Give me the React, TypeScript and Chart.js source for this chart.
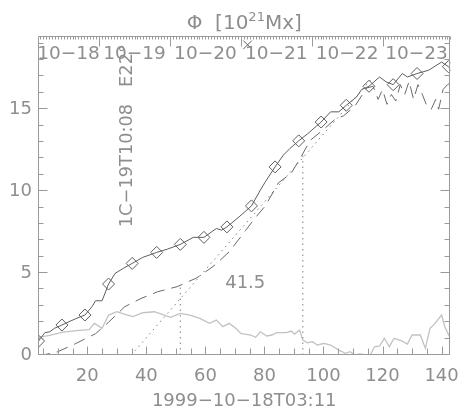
import React, { useEffect, useRef } from 'react';
import { Chart, registerables } from 'chart.js';
Chart.register(...registerables);

// ---- data ----
const X_MIN = 3.3;
const X_MAX = 143;
const Y_MIN = 0;
const Y_MAX = 19.47;
const xTickValues = [20, 40, 60, 80, 100, 120, 140];
const yTickValues = [0, 5, 10, 15];
const dayBoundaries = [0, 24, 48, 72, 96, 120, 144];
const dayLabels = ['10−18', '10−19', '10−20', '10−21', '10−22', '10−23'];
const xTitle = '1999−10−18T03:11';
const noteText = '1C−19T10:08   E22°';
const diffText = '41.5';

const solidX = [3.5, 5.6, 7.3, 8.9, 11.4, 14.5, 17.2, 19.2, 21.6, 22.8, 25.0, 27.2, 29.4, 32.2, 35.2, 38.8, 43.5, 47.1, 51.5, 55.9, 59.5, 63.7, 65.5, 67.3, 71.4, 75.6, 78.6, 80.3, 83.6, 86.4, 88.6, 91.6, 94.6, 99.2, 102.4, 105.2, 107.7, 111.2, 112.9, 115.4, 119.0, 121.2, 123.6, 126.7, 128.4, 130.0, 131.7, 135.6, 140.0, 142.3, 143.0];
const solidY = [0.85, 1.36, 1.42, 1.63, 1.83, 2.09, 2.30, 2.44, 2.95, 3.31, 3.31, 4.33, 4.98, 5.29, 5.59, 5.96, 6.26, 6.46, 6.75, 7.18, 7.18, 7.72, 7.62, 7.82, 8.43, 9.10, 10.06, 10.57, 11.48, 12.2, 12.6, 13.07, 13.5, 14.22, 14.84, 14.84, 15.24, 15.75, 16.2, 16.4, 16.97, 16.67, 16.5, 17.18, 16.97, 17.07, 17.18, 17.38, 17.88, 17.6, 17.45];
const diamondIdx = [0, 4, 7, 11, 14, 16, 18, 20, 23, 25, 28, 31, 33, 36, 39, 42, 46, 49];

const dashX = [3.3, 5.0, 10.0, 16.1, 22.8, 27.2, 32.7, 38.2, 43.8, 50.4, 57.0, 62.6, 68.1, 73.6, 77.0, 80.3, 84.7, 89.1, 92.4, 95.5, 99.6, 104.0, 106.8, 110.7, 114.6, 116.8, 118.5, 120.0, 121.5, 123.0, 124.5, 126.0, 127.5, 129.0, 130.5, 132.0, 133.5, 135.0, 136.5, 138.0, 139.0, 140.5, 142.0, 143.0];
const dashY = [0.0, 0.0, 0.2, 0.7, 1.3, 2.0, 2.95, 3.45, 3.86, 4.17, 4.7, 5.4, 6.3, 7.6, 8.4, 9.1, 10.5, 11.1, 12.1, 13.1, 13.7, 14.4, 14.6, 15.2, 16.3, 16.4, 15.6, 16.2, 15.3, 15.9, 15.5, 16.5, 15.9, 16.7, 15.6, 16.5, 15.9, 15.2, 15.0, 15.6, 15.0, 16.2, 16.5, 16.6];

const grayX = [3.3, 4.0, 7.3, 11.7, 17.2, 20.6, 22.4, 25.0, 27.2, 30.0, 32.7, 35.5, 38.8, 42.7, 48.2, 51.5, 54.8, 58.1, 61.4, 63.7, 65.9, 68.1, 70.3, 72.0, 75.3, 77.0, 78.6, 80.8, 82.5, 84.2, 87.5, 89.1, 90.2, 91.9, 93.0, 94.6, 96.3, 97.9, 100.2, 102.4, 105.2, 107.4, 109.0, 110.7, 112.4, 115.7, 117.3, 119.0, 120.6, 122.3, 123.9, 126.7, 128.4, 130.0, 132.8, 134.5, 136.1, 137.8, 140.0, 141.1, 143.0];
const grayY = [0.9, 1.1, 1.2, 1.4, 1.5, 1.55, 1.93, 1.63, 2.44, 2.64, 2.48, 2.34, 2.58, 2.64, 2.3, 2.54, 2.44, 2.24, 1.93, 2.13, 1.73, 1.93, 1.63, 1.32, 1.22, 1.08, 1.42, 1.16, 1.22, 1.36, 1.36, 1.46, 1.28, 1.52, 0.91, 0.75, 0.81, 0.61, 0.71, 0.61, 0.3, 0.1, 0.2, 0.0, 0.06, -0.05, 0.5, 0.55, 1.02, 0.5, 1.02, 0.85, 0.67, 1.22, 1.22, 0.41, 1.63, 1.93, 2.44, 1.73, 1.0];

const fitX = [34.9, 116.0];
const fitY = [0, 16.8];
const vline1X = [51.5, 51.5];
const vline1Y = [0, 4.17];
const vline2X = [93.0, 93.0];
const vline2Y = [0, 12.3];
const crossX = [74.3];
const crossY = [18.93];
const diffPos = [73.5, 4.4];
const notePos = [33.6, 7.8];

// ---- style ----
const FONT = '"DejaVu Sans", sans-serif';
const TEXT = '#8e8e8e';
const FRAME = '#9a9a9a';
const DARK = '#5e5e5e';

const pts = (xs: number[], ys: number[]) => xs.map((x, i) => ({ x, y: ys[i] }));

const idlPlugin = {
  id: 'idlDecor',
  afterDatasetsDraw(chart: any) {
    const { ctx, chartArea, scales } = chart;
    const { left, right, top, bottom } = chartArea;
    const xs = scales.x;
    const ys = scales.y;
    ctx.save();
    ctx.strokeStyle = FRAME;
    ctx.lineWidth = 1;
    const L = Math.round(left) + 0.5;
    const R = Math.round(right) - 0.5;
    const T = Math.round(top) + 0.5;
    const B = Math.round(bottom) - 0.5;
    ctx.beginPath();
    ctx.rect(L, T, R - L, B - T);
    for (let v = 0; v <= Math.floor(Y_MAX); v++) {
      const py = Math.round(ys.getPixelForValue(v)) - 0.5;
      const len = v % 5 === 0 ? 9 : 5;
      ctx.moveTo(L, py); ctx.lineTo(L + len, py);
      ctx.moveTo(R, py); ctx.lineTo(R - len, py);
    }
    for (let v = 5; v <= X_MAX; v += 5) {
      const px = Math.round(xs.getPixelForValue(v)) + 0.5;
      const len = v % 20 === 0 ? 8 : 6;
      ctx.moveTo(px, B); ctx.lineTo(px, B - len);
    }
    for (let h = Math.ceil(X_MIN); h <= X_MAX; h++) {
      const px = Math.round(xs.getPixelForValue(h)) + 0.5;
      const len = h % 24 === 0 ? 10 : 3;
      ctx.moveTo(px, T); ctx.lineTo(px, T + len);
    }
    ctx.stroke();

    ctx.fillStyle = TEXT;
    ctx.font = '18.5px ' + FONT;
    ctx.textAlign = 'center';
    ctx.textBaseline = 'middle';
    dayLabels.forEach((lab, i) => {
      const a = Math.max(X_MIN, dayBoundaries[i]);
      const b = Math.min(X_MAX, dayBoundaries[i + 1]);
      ctx.fillText(lab, xs.getPixelForValue((a + b) / 2), top + 18);
    });
    ctx.font = '18px ' + FONT;
    ctx.fillText(diffText, xs.getPixelForValue(diffPos[0]), ys.getPixelForValue(diffPos[1]));
    ctx.save();
    ctx.font = '17.8px ' + FONT;
    ctx.translate(xs.getPixelForValue(notePos[0]), ys.getPixelForValue(notePos[1]));
    ctx.rotate(-Math.PI / 2);
    ctx.textAlign = 'left';
    ctx.fillText(noteText, 0, 0);
    ctx.restore();
    const cx = (left + right) / 2;
    const parts = [
      { t: 'Φ  [10', f: '20px ' + FONT, dy: 0 },
      { t: '21', f: '13px ' + FONT, dy: -8 },
      { t: 'Mx]', f: '20px ' + FONT, dy: 0 },
    ];
    let w = 0;
    parts.forEach((p) => { ctx.font = p.f; w += ctx.measureText(p.t).width; });
    let xx = cx - w / 2;
    ctx.textAlign = 'left';
    ctx.textBaseline = 'alphabetic';
    parts.forEach((p) => {
      ctx.font = p.f;
      ctx.fillText(p.t, xx, 29 + p.dy);
      xx += ctx.measureText(p.t).width;
    });
    ctx.restore();
  },
};

export default function App() {
  const ref = useRef<HTMLCanvasElement | null>(null);
  useEffect(() => {
    if (!ref.current) return;
    const chart = new Chart(ref.current, {
      type: 'line',
      data: {
        datasets: [
          {
            label: 'flux',
            data: pts(solidX, solidY),
            borderColor: DARK,
            borderWidth: 1,
            pointStyle: 'rectRot',
            pointRadius: (c: any) => (diamondIdx.includes(c.dataIndex) ? 6 : 0),
            pointBorderColor: DARK,
            pointBackgroundColor: 'rgba(0,0,0,0)',
            pointBorderWidth: 1,
            tension: 0,
          },
          {
            label: 'dashed',
            data: pts(dashX, dashY),
            borderColor: '#6a6a6a',
            borderWidth: 1,
            borderDash: [12, 7],
            pointRadius: 0,
          },
          {
            label: 'fit',
            data: pts(fitX, fitY),
            borderColor: '#808080',
            borderWidth: 1,
            borderDash: [1.5, 4],
            pointRadius: 0,
          },
          {
            label: 'v1',
            data: pts(vline1X, vline1Y),
            borderColor: '#808080',
            borderWidth: 1,
            borderDash: [1.5, 4],
            pointRadius: 0,
          },
          {
            label: 'v2',
            data: pts(vline2X, vline2Y),
            borderColor: '#808080',
            borderWidth: 1,
            borderDash: [1.5, 4],
            pointRadius: 0,
          },
          {
            label: 'rate',
            data: pts(grayX, grayY),
            borderColor: '#c2c2c2',
            borderWidth: 1.3,
            pointRadius: 0,
          },
          {
            label: 'mark',
            data: pts(crossX, crossY),
            showLine: false,
            pointStyle: 'crossRot',
            pointRadius: 6,
            pointBorderColor: DARK,
            pointBorderWidth: 1,
          },
        ],
      },
      options: {
        responsive: false,
        animation: false,
        events: [],
        layout: { padding: { top: 36, right: 11, left: 0, bottom: 0 } },
        plugins: { legend: { display: false }, tooltip: { enabled: false }, title: { display: false } },
        scales: {
          x: {
            type: 'linear',
            min: X_MIN,
            max: X_MAX,
            grid: { display: false, drawTicks: false },
            border: { display: false },
            afterBuildTicks: (s: any) => { s.ticks = xTickValues.map((v) => ({ value: v })); },
            afterFit: (s: any) => { s.height = 59; },
            ticks: { color: TEXT, font: { family: FONT, size: 18 }, padding: 11, maxRotation: 0, autoSkip: false },
            title: { display: true, text: xTitle, color: TEXT, font: { family: FONT, size: 18 }, padding: { top: 0, bottom: 2 } },
          },
          y: {
            type: 'linear',
            min: Y_MIN,
            max: Y_MAX,
            grid: { display: false, drawTicks: false },
            border: { display: false },
            afterBuildTicks: (s: any) => { s.ticks = yTickValues.map((v) => ({ value: v })); },
            afterFit: (s: any) => { s.width = 38; },
            ticks: { color: TEXT, font: { family: FONT, size: 18 }, padding: 6 },
          },
        },
      },
      plugins: [idlPlugin],
    } as any);
    return () => chart.destroy();
  }, []);
  return (
    <div style={{ position: 'fixed', left: 0, top: 0, width: 470, height: 414, background: '#fff' }}>
      <canvas ref={ref} width={470} height={414} />
    </div>
  );
}
